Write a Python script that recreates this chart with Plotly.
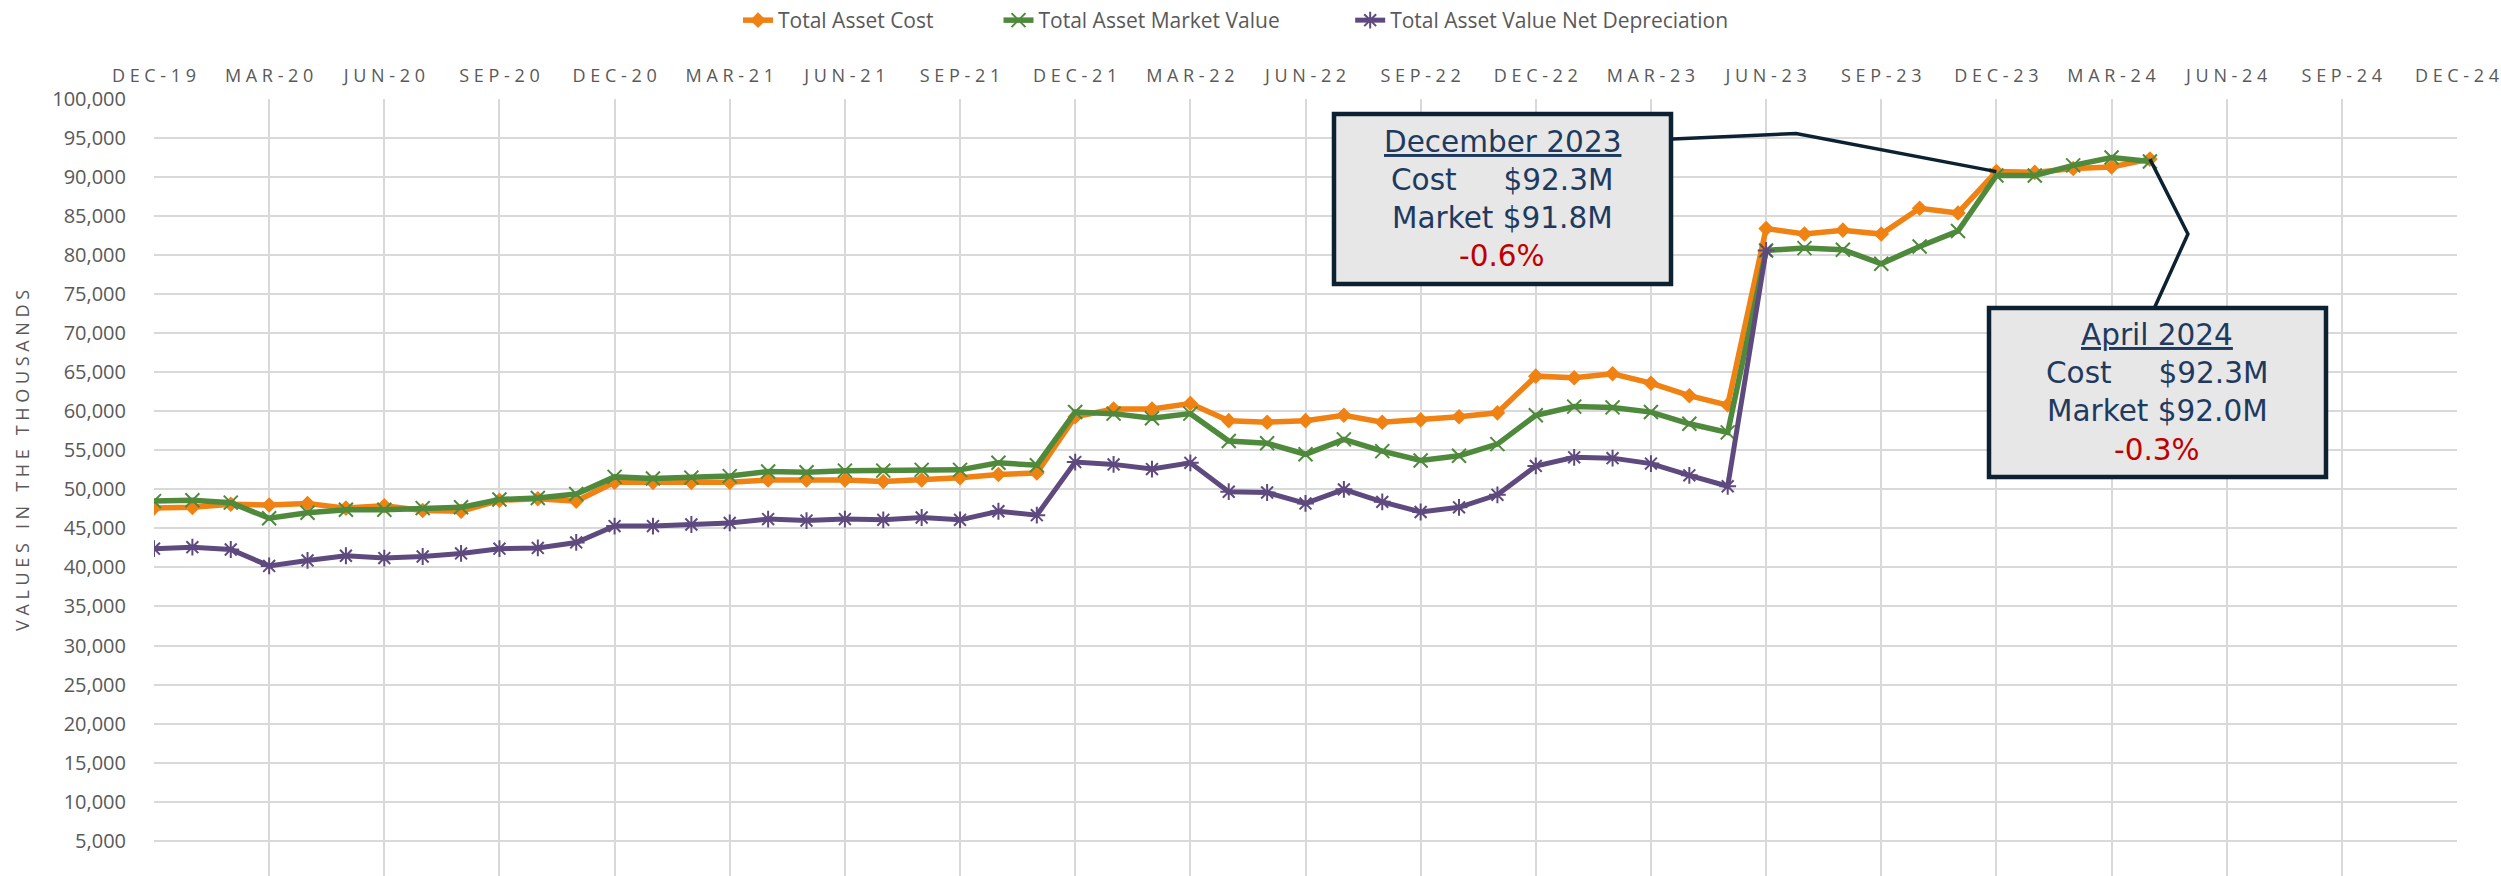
import plotly.graph_objects as go

# ---------------- data (values in thousands) ----------------
month_count = 53  # Dec-2019 .. Apr-2024, monthly
tick_labels = ["DEC-19", "MAR-20", "JUN-20", "SEP-20", "DEC-20", "MAR-21", "JUN-21",
               "SEP-21", "DEC-21", "MAR-22", "JUN-22", "SEP-22", "DEC-22", "MAR-23",
               "JUN-23", "SEP-23", "DEC-23", "MAR-24", "JUN-24", "SEP-24", "DEC-24"]

total_asset_cost = [47600, 47700, 48100, 48000, 48200, 47600, 47900, 47300, 47200, 48600, 48800, 48500,
                    50900, 50900, 50900, 50900, 51200, 51200, 51200, 51000, 51200, 51500, 51900, 52100,
                    59300, 60300, 60300, 61000, 58800, 58600, 58800, 59500, 58600, 58900, 59300, 59800,
                    64500, 64300, 64800, 63600, 62000, 60800, 83400, 82700, 83200, 82700, 86000, 85400,
                    90700, 90600, 91100, 91300, 92300]

total_asset_market = [48500, 48600, 48300, 46300, 47000, 47400, 47400, 47600, 47700, 48700, 48900, 49400,
                      51600, 51400, 51500, 51700, 52300, 52200, 52400, 52400, 52500, 52500, 53400, 53100,
                      59900, 59700, 59100, 59700, 56200, 55900, 54500, 56400, 54900, 53700, 54300, 55800,
                      59500, 60600, 60500, 59900, 58400, 57300, 80600, 80900, 80700, 78900, 81100, 83100,
                      90200, 90200, 91500, 92500, 92000]

total_asset_net_dep = [42400, 42600, 42300, 40200, 40900, 41500, 41200, 41400, 41800, 42400, 42500, 43200,
                       45300, 45300, 45500, 45700, 46200, 46000, 46200, 46100, 46400, 46100, 47200, 46700,
                       53500, 53200, 52600, 53400, 49700, 49600, 48200, 50000, 48400, 47100, 47700, 49300,
                       53000, 54100, 54000, 53300, 51800, 50400, 80600]

y_ticks = list(range(5000, 100001, 5000))

callout_dec = ["December 2023", "Cost", "$92.3M", "Market $91.8M", "-0.6%"]
callout_apr = ["April 2024", "Cost", "$92.3M", "Market $92.0M", "-0.3%"]

# ---------------- styling / layout geometry ----------------
FONT = "Open Sans"
BOX_FONT = "DejaVu Sans"
GRAY = "#595959"
GRID = "#D9D9D9"
NAVY = "#1F3A5F"
DARK = "#0C2233"
RED = "#C00000"
ORANGE = "#EF8212"
GREEN = "#4F8A3C"
PURPLE = "#5E4A7E"
NB = "\u00a0"

W, H = 2501, 876
ML, MR, MT, MB = 154, 44, 99, 0
PW, PH = W - ML - MR, H - MT - MB


def px(xp):
    return (xp - ML) / PW


def py(yp):
    return (H - MB - yp) / PH


def spaced(s):
    return NB.join(s)


x_all = list(range(month_count))

fig = go.Figure()
fig.add_trace(go.Scatter(
    x=x_all, y=total_asset_cost, name="Total Asset Cost" + NB * 11, mode="lines+markers",
    line=dict(color=ORANGE, width=5.5),
    marker=dict(symbol="diamond", size=12, color=ORANGE, line=dict(width=0))))
fig.add_trace(go.Scatter(
    x=x_all, y=total_asset_market, name="Total Asset Market Value" + NB * 12, mode="lines+markers",
    line=dict(color=GREEN, width=5.5),
    marker=dict(symbol="x-thin-open", size=14, color=GREEN, line=dict(width=2, color=GREEN))))
fig.add_trace(go.Scatter(
    x=x_all[:len(total_asset_net_dep)], y=total_asset_net_dep,
    name="Total Asset Value Net Depreciation", mode="lines+markers",
    line=dict(color=PURPLE, width=5),
    marker=dict(symbol="asterisk-open", size=14, color=PURPLE, line=dict(width=2, color=PURPLE))))

fig.update_layout(
    width=W, height=H,
    paper_bgcolor="white", plot_bgcolor="white",
    margin=dict(l=ML, r=MR, t=MT, b=MB, pad=0),
    font=dict(family=FONT, color=GRAY),
    legend=dict(orientation="h", x=px(738), xanchor="left", y=py(20), yanchor="middle",
                font=dict(family=FONT, size=21, color=GRAY), bgcolor="rgba(0,0,0,0)"),
    xaxis=dict(range=[0, 60], side="top", tickmode="array",
               tickvals=list(range(0, 61, 3)), ticktext=[spaced(t) for t in tick_labels],
               showgrid=True, gridcolor=GRID, gridwidth=2, zeroline=False, showline=False,
               ticks="", tickfont=dict(family=FONT, size=18, color=GRAY), ticklabelstandoff=12),
    yaxis=dict(range=[480, 100000], tickmode="array", tickvals=y_ticks, tickformat=",",
               showgrid=True, gridcolor=GRID, gridwidth=2, zeroline=False, showline=False,
               ticks="", tickfont=dict(family=FONT, size=20, color=GRAY), ticklabelstandoff=27),
)

# y axis title (letter-spaced)
fig.add_annotation(xref="paper", yref="paper", x=px(22), y=py(461), xanchor="center", yanchor="middle",
                   showarrow=False, text=spaced("VALUES IN THE THOUSANDS"), textangle=-90,
                   font=dict(family=FONT, size=18, color=GRAY))

# leader lines (anchored to the data points they describe)
dec23 = 48
apr24 = 52
fig.add_shape(type="path", xref="x", yref="y", layer="above",
              path=f"M 39.57,94877 L 42.78,95580 L {dec23},{total_asset_cost[dec23]}",
              line=dict(color=DARK, width=3.5))
fig.add_shape(type="path", xref="x", yref="y", layer="above",
              path=f"M {apr24},{total_asset_cost[apr24]} L 52.99,82710 L 52.13,73400",
              line=dict(color=DARK, width=3.5))


def callout(lines, box, cx, ys):
    x0, x1, y0, y1 = box
    fig.add_shape(type="rect", xref="paper", yref="paper", layer="above",
                  x0=px(x0), x1=px(x1), y0=py(y1), y1=py(y0),
                  fillcolor="#E7E7E7", line=dict(color=DARK, width=4.5))
    title, cost_lbl, cost_val, market, pct = lines
    texts = [f"<u>{title}</u>", cost_lbl + NB * 5 + cost_val, market,
             f"<span style='color:{RED}'>{pct}</span>"]
    for t, yy in zip(texts, ys):
        fig.add_annotation(xref="paper", yref="paper", x=px(cx), y=py(yy), xanchor="center",
                           yanchor="middle", showarrow=False, text=t,
                           font=dict(family=BOX_FONT, size=29.5, color=NAVY))


callout(callout_dec, (1334, 1671, 114, 284), 1502, [142, 180, 218, 256])
callout(callout_apr, (1989, 2326, 308, 477), 2157, [335, 373, 411, 450])

fig.write_html("out.html", config={"displayModeBar": False},
               post_script="document.body.style.margin='0';document.body.style.overflow='hidden';")
